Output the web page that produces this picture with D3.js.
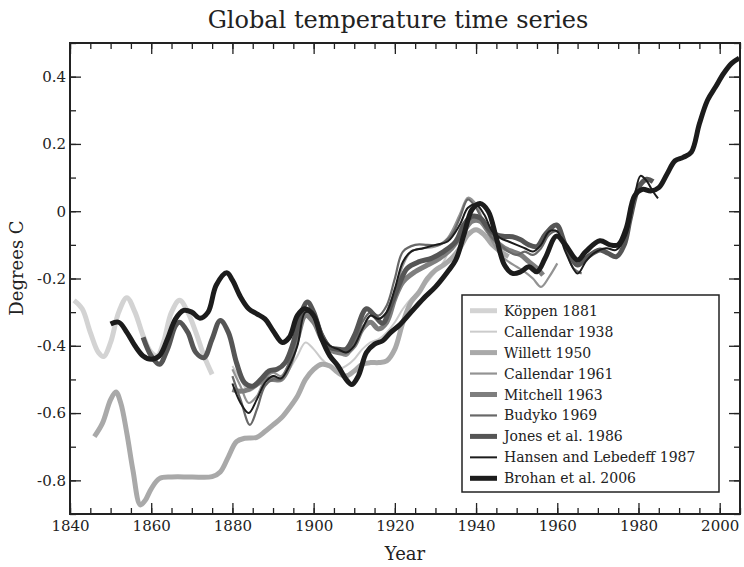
<!DOCTYPE html>
<html><head><meta charset="utf-8">
<script src="https://cdn.jsdelivr.net/npm/d3@7"></script>
<style>
body{margin:0;background:#fff}
svg{display:block}
text{font-family:"DejaVu Serif",serif;fill:#222}
</style>
</head><body>
<svg id="c" width="744" height="567"></svg>
<script>
// ---- data (year, °C anomaly) ----
const koppen = [[1841,-0.265],[1843,-0.29],[1845,-0.36],[1847,-0.42],[1848.3,-0.432],[1850,-0.39],[1852,-0.3],[1854,-0.257],[1856,-0.3],[1858,-0.37],[1860,-0.42],[1861.5,-0.43],[1863,-0.39],[1865,-0.3],[1867,-0.265],[1869,-0.3],[1871,-0.36],[1873,-0.43],[1875,-0.485]];
const callendar1938 = [[1880,-0.46],[1882,-0.5],[1884,-0.535],[1886,-0.52],[1888,-0.5],[1890,-0.49],[1892,-0.5],[1894,-0.47],[1896,-0.43],[1898,-0.39],[1900,-0.41],[1902,-0.44],[1904,-0.46],[1906,-0.47],[1908,-0.46],[1910,-0.44],[1912,-0.41],[1914,-0.39],[1916,-0.38],[1918,-0.36],[1920,-0.33],[1922,-0.29],[1924,-0.26],[1926,-0.24],[1928,-0.21],[1930,-0.18],[1932,-0.15],[1934,-0.1],[1936,-0.07],[1938,-0.06]];
const willett1950 = [[1846,-0.67],[1848,-0.63],[1850,-0.56],[1851.3,-0.537],[1852.5,-0.57],[1854,-0.66],[1855.5,-0.77],[1857.3,-0.873],[1858.5,-0.86],[1860,-0.825],[1862,-0.795],[1865,-0.79],[1870,-0.79],[1875,-0.789],[1877,-0.775],[1879,-0.73],[1881,-0.685],[1883,-0.675],[1886,-0.672],[1888,-0.655],[1890,-0.635],[1892,-0.615],[1894,-0.585],[1896,-0.55],[1898,-0.5],[1900,-0.47],[1902,-0.455],[1904,-0.46],[1906,-0.48],[1908,-0.49],[1910,-0.475],[1912,-0.455],[1914,-0.45],[1916,-0.45],[1918,-0.445],[1920,-0.41],[1922,-0.33],[1924,-0.27],[1926,-0.24],[1928,-0.2],[1930,-0.175],[1932,-0.16],[1934,-0.14],[1936,-0.11],[1938,-0.07],[1940,-0.055],[1942,-0.07],[1944,-0.1],[1946,-0.12],[1948,-0.135]];
const callendar1961 = [[1880,-0.47],[1882,-0.52],[1884,-0.57],[1886,-0.55],[1888,-0.5],[1890,-0.48],[1892,-0.49],[1894,-0.45],[1896,-0.38],[1898,-0.3],[1900,-0.33],[1902,-0.38],[1904,-0.41],[1906,-0.42],[1908,-0.43],[1910,-0.4],[1912,-0.35],[1914,-0.31],[1916,-0.32],[1918,-0.3],[1920,-0.24],[1922,-0.16],[1924,-0.12],[1927,-0.11],[1930,-0.105],[1933,-0.08],[1936,-0.01],[1938,0.04],[1940,0.02],[1942,-0.04],[1944,-0.09],[1946,-0.13],[1948,-0.15],[1950,-0.165],[1952,-0.18],[1954,-0.2],[1956,-0.225],[1958,-0.195],[1960,-0.155]];
const mitchell1963 = [[1880,-0.53],[1882,-0.535],[1884,-0.53],[1886,-0.515],[1888,-0.5],[1890,-0.5],[1892,-0.5],[1894,-0.46],[1896,-0.38],[1898,-0.31],[1900,-0.33],[1902,-0.38],[1904,-0.41],[1906,-0.42],[1908,-0.42],[1910,-0.4],[1912,-0.35],[1914,-0.33],[1916,-0.35],[1918,-0.33],[1920,-0.26],[1922,-0.21],[1925,-0.18],[1928,-0.16],[1931,-0.14],[1934,-0.11],[1937,-0.06],[1939,-0.03],[1941,-0.03],[1943,-0.06],[1945,-0.09],[1947,-0.11],[1949,-0.12],[1951,-0.13],[1953,-0.15],[1955,-0.17],[1956.5,-0.19]];
const budyko1969 = [[1880,-0.49],[1882,-0.56],[1884.3,-0.635],[1886,-0.59],[1888,-0.52],[1890,-0.5],[1892,-0.5],[1894,-0.45],[1896,-0.37],[1898,-0.29],[1900,-0.3],[1902,-0.36],[1904,-0.4],[1906,-0.41],[1908,-0.42],[1910,-0.39],[1912,-0.33],[1914,-0.3],[1916,-0.31],[1918,-0.28],[1920,-0.2],[1922,-0.12],[1925,-0.1],[1928,-0.1],[1931,-0.1],[1934,-0.07],[1936,-0.02],[1938,0.035],[1940,0.01],[1942,-0.04],[1944,-0.08],[1946,-0.1],[1948,-0.12],[1950,-0.13],[1952,-0.12],[1954,-0.13],[1956,-0.11],[1958,-0.07],[1960,-0.06],[1962,-0.11],[1964,-0.17],[1966,-0.185]];
const jones1986 = [[1858,-0.375],[1860,-0.43],[1862,-0.455],[1864,-0.41],[1866,-0.34],[1867,-0.33],[1869,-0.36],[1871,-0.42],[1873,-0.435],[1875,-0.38],[1877,-0.325],[1879,-0.36],[1881,-0.45],[1883,-0.51],[1885,-0.52],[1887,-0.5],[1889,-0.475],[1891,-0.47],[1893,-0.45],[1895,-0.39],[1897,-0.3],[1898.5,-0.27],[1900,-0.3],[1902,-0.37],[1904,-0.405],[1906,-0.41],[1908,-0.41],[1910,-0.37],[1913,-0.29],[1915,-0.31],[1917,-0.333],[1919,-0.28],[1921,-0.22],[1923,-0.17],[1926,-0.15],[1929,-0.14],[1932,-0.12],[1935,-0.09],[1937,-0.04],[1939,-0.015],[1941,-0.02],[1943,-0.05],[1945,-0.07],[1947,-0.075],[1949,-0.076],[1951,-0.085],[1953,-0.1],[1955,-0.105],[1957,-0.07],[1959.8,-0.041],[1962,-0.1],[1965,-0.16],[1967,-0.14],[1970.5,-0.115],[1972.5,-0.125],[1974.6,-0.135],[1976.5,-0.1],[1978,-0.02],[1980,0.07],[1982,0.095],[1983.6,0.088]];
const hansen1987 = [[1880,-0.512],[1882,-0.57],[1884,-0.6],[1886,-0.56],[1888,-0.51],[1890,-0.49],[1892,-0.497],[1894,-0.46],[1896,-0.4],[1898,-0.3],[1900,-0.31],[1902,-0.37],[1904,-0.4],[1906,-0.41],[1908,-0.42],[1910,-0.4],[1912,-0.35],[1914,-0.31],[1916,-0.32],[1918,-0.3],[1920,-0.23],[1922,-0.15],[1924,-0.12],[1927,-0.11],[1930,-0.1],[1933,-0.09],[1936,-0.04],[1938,0.01],[1940,0.02],[1942,-0.01],[1944,-0.06],[1946,-0.08],[1948,-0.09],[1950,-0.1],[1952,-0.11],[1954,-0.12],[1956,-0.1],[1958,-0.06],[1960,-0.06],[1962,-0.12],[1965,-0.185],[1967,-0.15],[1969,-0.125],[1972,-0.11],[1974.5,-0.115],[1977,-0.07],[1979,0.04],[1980.5,0.105],[1982,0.09],[1983.5,0.06],[1984.8,0.038]];
const brohan2006 = [[1850,-0.335],[1852,-0.33],[1854,-0.36],[1856,-0.4],[1858,-0.43],[1860,-0.44],[1862,-0.43],[1864,-0.38],[1866,-0.32],[1868,-0.295],[1870,-0.3],[1872,-0.318],[1874,-0.3],[1876,-0.22],[1878.6,-0.183],[1880,-0.205],[1882,-0.255],[1884,-0.29],[1886,-0.305],[1888,-0.32],[1890,-0.355],[1892.3,-0.39],[1894,-0.375],[1896,-0.31],[1897.8,-0.29],[1900,-0.31],[1902,-0.38],[1904,-0.43],[1906,-0.46],[1908,-0.5],[1909.4,-0.515],[1911,-0.49],[1913,-0.42],[1915,-0.395],[1917,-0.385],[1919,-0.36],[1921,-0.34],[1924,-0.3],[1927,-0.26],[1930,-0.225],[1933,-0.18],[1935,-0.145],[1937,-0.07],[1939,0.005],[1941,0.023],[1943,0.0],[1945,-0.08],[1947,-0.16],[1949,-0.185],[1951,-0.18],[1953,-0.165],[1955,-0.18],[1957,-0.14],[1959.8,-0.074],[1962,-0.1],[1965,-0.145],[1967,-0.12],[1970.5,-0.088],[1973,-0.1],[1975,-0.1],[1977,-0.05],[1979,0.045],[1981,0.065],[1983,0.06],[1985,0.07],[1987,0.11],[1989,0.15],[1991,0.16],[1993,0.175],[1995,0.26],[1997,0.33],[1999,0.37],[2001,0.41],[2003,0.44],[2004.8,0.455]];

const seriesNames = ["Köppen 1881","Callendar 1938","Willett 1950","Callendar 1961","Mitchell 1963","Budyko 1969","Jones et al. 1986","Hansen and Lebedeff 1987","Brohan et al. 2006"];
const seriesData = [koppen, callendar1938, willett1950, callendar1961, mitchell1963, budyko1969, jones1986, hansen1987, brohan2006];
const seriesColors = ["#d3d3d3","#cbcbcb","#a9a9a9","#939393","#7e7e7e","#686868","#555555","#1c1c1c","#1c1c1c"];
const seriesWidths = [5,2,5,2.2,5,2.2,5,2,5];

const xMajor = d3.range(1840, 2001, 20);
const xMinor = d3.range(1840, 2006, 5);
const yMajor = [-0.8,-0.6,-0.4,-0.2,0,0.2,0.4];
const yMinor = d3.range(-9, 6).map(d => d/10);

const titleText = "Global temperature time series";
const xTitle = "Year", yTitle = "Degrees C";

// ---- layout ----
const L = 70, R = 740, T = 43, B = 514;
const svg = d3.select("#c");
const x = d3.scaleLinear().domain([1840, 2005]).range([L, R]);
const y = d3.scaleLinear().domain([-0.9, 0.5]).range([B, T]);

const line = d3.line().x(d => x(d[0])).y(d => y(d[1])).curve(d3.curveCatmullRom.alpha(0.5));

const plot = svg.append("g");
seriesData.forEach((s, i) => {
  plot.append("path").attr("d", line(s)).attr("fill", "none")
    .attr("stroke", seriesColors[i]).attr("stroke-width", seriesWidths[i])
    .attr("stroke-linejoin", "round").attr("stroke-linecap", "butt");
});

// axes
const fmtY = d => d === 0 ? "0" : (d < 0 ? "-" : "") + Math.abs(d).toFixed(1);
function style(g){ g.select(".domain").remove(); g.selectAll("line").attr("stroke","#222").attr("stroke-width",1.3); g.selectAll("text").attr("font-family","DejaVu Serif").attr("fill","#222"); }

svg.append("g").attr("transform",`translate(0,${B})`).call(d3.axisBottom(x).tickValues(xMinor).tickSize(-6).tickFormat("")).call(style);
svg.append("g").attr("transform",`translate(0,${B})`).call(d3.axisBottom(x).tickValues(xMajor).tickSize(-11).tickPadding(6).tickFormat(d3.format("d"))).call(style).selectAll("text").attr("font-size",15);
svg.append("g").attr("transform",`translate(0,${T})`).call(d3.axisTop(x).tickValues(xMinor).tickSize(-6).tickFormat("")).call(style);
svg.append("g").attr("transform",`translate(0,${T})`).call(d3.axisTop(x).tickValues(xMajor).tickSize(-11).tickFormat("")).call(style);

svg.append("g").attr("transform",`translate(${L},0)`).call(d3.axisLeft(y).tickValues(yMinor).tickSize(-6).tickFormat("")).call(style);
svg.append("g").attr("transform",`translate(${L},0)`).call(d3.axisLeft(y).tickValues(yMajor).tickSize(-11).tickPadding(4).tickFormat(fmtY)).call(style).selectAll("text").attr("font-size",15);
svg.append("g").attr("transform",`translate(${R},0)`).call(d3.axisRight(y).tickValues(yMinor).tickSize(-6).tickFormat("")).call(style);
svg.append("g").attr("transform",`translate(${R},0)`).call(d3.axisRight(y).tickValues(yMajor).tickSize(-11).tickFormat("")).call(style);

svg.append("rect").attr("x",L).attr("y",T).attr("width",R-L).attr("height",B-T)
  .attr("fill","none").attr("stroke","#222").attr("stroke-width",2);

// titles
svg.append("text").attr("x",398).attr("y",28).attr("text-anchor","middle").attr("font-size",24).text(titleText);
svg.append("text").attr("x",405).attr("y",560).attr("text-anchor","middle").attr("font-size",18).text(xTitle);
svg.append("text").attr("transform","translate(23,268) rotate(-90)").attr("text-anchor","middle").attr("font-size",18).text(yTitle);

// legend
const lg = svg.append("g");
lg.append("rect").attr("x",462).attr("y",295).attr("width",257).attr("height",197)
  .attr("fill","#fff").attr("stroke","#222").attr("stroke-width",1.5);
seriesNames.forEach((n, i) => {
  const cy = 310.7 + i * 20.95;
  lg.append("line").attr("x1",470).attr("x2",497).attr("y1",cy).attr("y2",cy)
    .attr("stroke",seriesColors[i]).attr("stroke-width",seriesWidths[i]);
  lg.append("text").attr("x",504).attr("y",cy).attr("dy","0.36em").attr("font-size",14).text(n);
});
</script>
</body></html>
